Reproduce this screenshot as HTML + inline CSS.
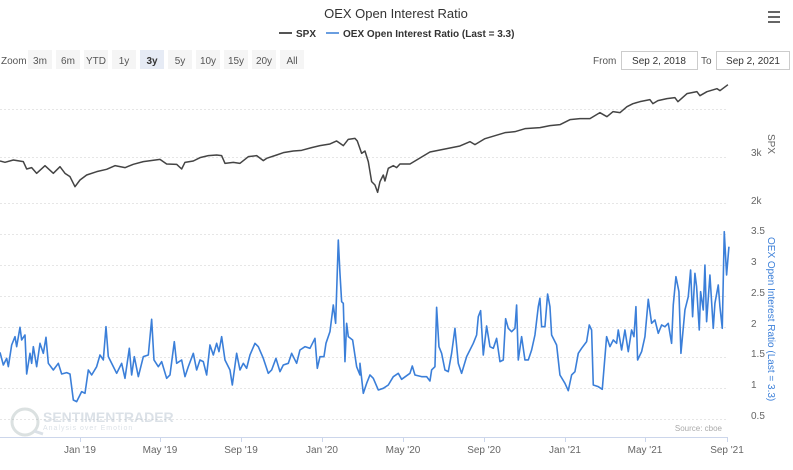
<!DOCTYPE html>
<html><head><meta charset="utf-8"><style>
body{margin:0;background:#fff;width:793px;height:470px;overflow:hidden;font-family:"Liberation Sans",sans-serif;}
svg{position:absolute;left:0;top:0}
</style></head><body>
<svg width="793" height="470" viewBox="0 0 793 470" font-family="Liberation Sans, sans-serif">
<text x="396" y="18" text-anchor="middle" font-size="13" fill="#333">OEX Open Interest Ratio</text>
<g fill="#666"><rect x="768" y="11" width="12" height="2"/><rect x="768" y="16" width="12" height="2"/><rect x="768" y="21" width="12" height="2"/></g>
<line x1="279" y1="33" x2="292" y2="33" stroke="#555" stroke-width="2"/>
<text x="296" y="37" font-size="10" font-weight="bold" fill="#333">SPX</text>
<line x1="326" y1="33" x2="339" y2="33" stroke="#6a9ee0" stroke-width="2"/>
<text x="343" y="37" font-size="10" font-weight="bold" fill="#333">OEX Open Interest Ratio (Last = 3.3)</text>
<text x="1" y="64" font-size="10" fill="#555">Zoom</text>
<g font-size="10" fill="#555" text-anchor="middle">
<rect x="28" y="50" width="24" height="19" fill="#f5f5f5"/><text x="40" y="64">3m</text>
<rect x="56" y="50" width="24" height="19" fill="#f5f5f5"/><text x="68" y="64">6m</text>
<rect x="84" y="50" width="24" height="19" fill="#f5f5f5"/><text x="96" y="64">YTD</text>
<rect x="112" y="50" width="24" height="19" fill="#f5f5f5"/><text x="124" y="64">1y</text>
<rect x="140" y="50" width="24" height="19" fill="#e6ebf5"/><text x="152" y="64" font-weight="bold" fill="#333">3y</text>
<rect x="168" y="50" width="24" height="19" fill="#f5f5f5"/><text x="180" y="64">5y</text>
<rect x="196" y="50" width="24" height="19" fill="#f5f5f5"/><text x="208" y="64">10y</text>
<rect x="224" y="50" width="24" height="19" fill="#f5f5f5"/><text x="236" y="64">15y</text>
<rect x="252" y="50" width="24" height="19" fill="#f5f5f5"/><text x="264" y="64">20y</text>
<rect x="280" y="50" width="24" height="19" fill="#f5f5f5"/><text x="292" y="64">All</text>
</g>
<text x="593" y="64" font-size="10" fill="#555">From</text>
<rect x="621.5" y="51.5" width="76" height="18" fill="#fff" stroke="#ccc"/>
<text x="659" y="64" font-size="10" fill="#333" text-anchor="middle">Sep 2, 2018</text>
<text x="701" y="64" font-size="10" fill="#555">To</text>
<rect x="716.5" y="51.5" width="73" height="18" fill="#fff" stroke="#ccc"/>
<text x="753" y="64" font-size="10" fill="#333" text-anchor="middle">Sep 2, 2021</text>
<g stroke="#e6e6e6" stroke-dasharray="2,2" stroke-width="1">
<line x1="0" y1="109.5" x2="728" y2="109.5"/><line x1="0" y1="157.5" x2="728" y2="157.5"/><line x1="0" y1="203.5" x2="728" y2="203.5"/>
<line x1="0" y1="234.5" x2="728" y2="234.5"/><line x1="0" y1="265.5" x2="728" y2="265.5"/><line x1="0" y1="296.5" x2="728" y2="296.5"/><line x1="0" y1="327.5" x2="728" y2="327.5"/><line x1="0" y1="357.5" x2="728" y2="357.5"/><line x1="0" y1="388.5" x2="728" y2="388.5"/><line x1="0" y1="419.5" x2="728" y2="419.5"/>
</g>
<line x1="0" y1="437.5" x2="728" y2="437.5" stroke="#ccd6eb"/>
<g stroke="#ccd6eb"><line x1="80.5" y1="437" x2="80.5" y2="442"/><line x1="160.5" y1="437" x2="160.5" y2="442"/><line x1="241.5" y1="437" x2="241.5" y2="442"/><line x1="322.5" y1="437" x2="322.5" y2="442"/><line x1="403.5" y1="437" x2="403.5" y2="442"/><line x1="484.5" y1="437" x2="484.5" y2="442"/><line x1="565.5" y1="437" x2="565.5" y2="442"/><line x1="645.5" y1="437" x2="645.5" y2="442"/><line x1="727.5" y1="437" x2="727.5" y2="442"/></g>
<g font-size="10" fill="#666" text-anchor="middle">
<text x="80" y="453">Jan '19</text><text x="160" y="453">May '19</text><text x="241" y="453">Sep '19</text><text x="322" y="453">Jan '20</text><text x="403" y="453">May '20</text><text x="484" y="453">Sep '20</text><text x="565" y="453">Jan '21</text><text x="645" y="453">May '21</text><text x="727" y="453">Sep '21</text>
</g>
<g font-size="10" fill="#666">
<text x="751" y="156">3k</text><text x="751" y="204">2k</text>
<text x="751" y="234">3.5</text><text x="751" y="265">3</text><text x="751" y="296">2.5</text><text x="751" y="327">2</text><text x="751" y="357">1.5</text><text x="751" y="388">1</text><text x="751" y="419">0.5</text>
</g>
<text transform="translate(768,134) rotate(90)" font-size="10" fill="#666">SPX</text>
<text transform="translate(768,237) rotate(90)" font-size="10" fill="#3b7fd9">OEX Open Interest Ratio (Last = 3.3)</text>
<text x="722" y="431" font-size="8" fill="#aaa" text-anchor="end">Source: cboe</text>
<g opacity="0.35">
<circle cx="25" cy="422" r="13" fill="none" stroke="#9aa" stroke-width="3"/>
<line x1="34" y1="431" x2="43" y2="434" stroke="#9ab" stroke-width="3"/>
<text x="43" y="422" font-size="14" font-weight="bold" fill="#9ab">SENTIMENTRADER</text>
<text x="43" y="430" font-size="7" fill="#9ab" letter-spacing="1">Analysis over Emotion</text>
</g>
<g transform="translate(0,75) scale(0.3333)">
<polyline fill="none" stroke="#444" stroke-width="1.5" vector-effect="non-scaling-stroke" stroke-linejoin="round" points="0,258 15,262 40,255 70,260 80,282 95,278 110,295 135,272 160,295 180,275 195,295 210,305 225,335 240,315 260,300 290,290 320,283 345,272 375,278 400,268 430,260 480,253 500,267 530,268 545,282 555,262 580,258 600,248 625,242 650,240 665,242 675,265 700,262 720,265 745,245 770,242 790,257 800,250 830,240 850,233 880,228 905,226 935,218 960,212 990,207 1010,198 1030,212 1045,193 1065,190 1072,198 1085,235 1095,228 1105,260 1115,320 1125,330 1133,352 1140,320 1150,300 1155,318 1165,280 1180,272 1190,278 1200,267 1230,267 1260,249 1290,231 1320,225 1350,219 1380,213 1410,200 1425,209 1455,191 1485,182 1515,173 1545,170 1575,161 1620,158 1650,152 1680,149 1710,134 1740,131 1770,131 1800,113 1821,125 1839,110 1860,113 1881,95 1899,86 1920,80 1950,74 1959,86 1974,77 2001,71 2025,68 2034,80 2061,56 2091,50 2100,62 2121,50 2151,41 2160,47 2184,29"/>
</g>
<g transform="translate(0,220) scale(0.3333)">
<polyline fill="none" stroke="#3b7fd9" stroke-width="1.6" vector-effect="non-scaling-stroke" stroke-linejoin="round" points="0,397 10,435 20,415 25,440 35,375 45,350 50,380 60,322 65,360 75,345 80,462 90,400 95,430 100,380 110,440 120,370 130,400 138,352 145,430 160,450 175,430 185,462 200,458 210,462 220,540 230,545 245,515 255,520 265,450 275,465 290,440 300,405 310,420 318,320 325,410 340,440 350,460 365,430 375,475 388,385 395,465 403,410 415,470 430,410 445,405 455,298 462,420 475,440 485,425 500,475 510,465 523,365 530,430 545,420 555,470 565,440 580,400 590,450 600,420 610,425 620,465 630,375 640,405 650,370 657,395 665,350 675,420 690,450 697,495 710,400 720,450 730,430 740,445 750,405 765,370 775,380 790,415 805,460 815,450 828,415 840,455 850,435 865,430 875,400 890,430 900,390 915,380 930,385 945,355 952,445 960,410 972,410 978,370 990,335 1000,255 1007,310 1015,60 1020,160 1025,245 1030,250 1035,425 1040,310 1045,350 1058,360 1070,440 1080,465 1080,430 1090,520 1100,490 1110,465 1120,475 1135,510 1150,505 1165,495 1180,470 1195,460 1205,478 1230,460 1237,438 1245,465 1265,470 1280,470 1290,483 1295,450 1305,440 1310,262 1317,380 1325,400 1335,450 1345,455 1355,400 1365,325 1375,430 1385,460 1400,410 1420,370 1430,345 1435,290 1442,272 1450,405 1460,318 1470,380 1480,385 1490,355 1500,425 1510,420 1517,296 1525,325 1535,335 1545,325 1550,255 1555,420 1565,350 1575,420 1585,420 1595,390 1605,345 1615,260 1620,235 1625,320 1635,320 1643,222 1650,260 1655,345 1670,375 1680,465 1695,490 1705,512 1715,465 1725,455 1735,400 1745,385 1760,365 1768,315 1775,330 1780,495 1795,500 1807,508 1820,350 1830,380 1840,360 1850,370 1855,330 1865,390 1875,330 1885,395 1895,330 1902,350 1908,260 1913,420 1925,395 1935,350 1945,238 1955,310 1965,300 1975,340 1985,315 1995,320 2005,310 2015,370 2020,255 2028,170 2037,215 2043,400 2055,270 2065,230 2072,150 2078,290 2085,160 2090,200 2098,330 2102,215 2110,270 2115,135 2120,305 2130,165 2140,325 2145,250 2155,195 2160,260 2167,325 2173,35 2180,165 2187,80"/>
</g>
</svg>
</body></html>
